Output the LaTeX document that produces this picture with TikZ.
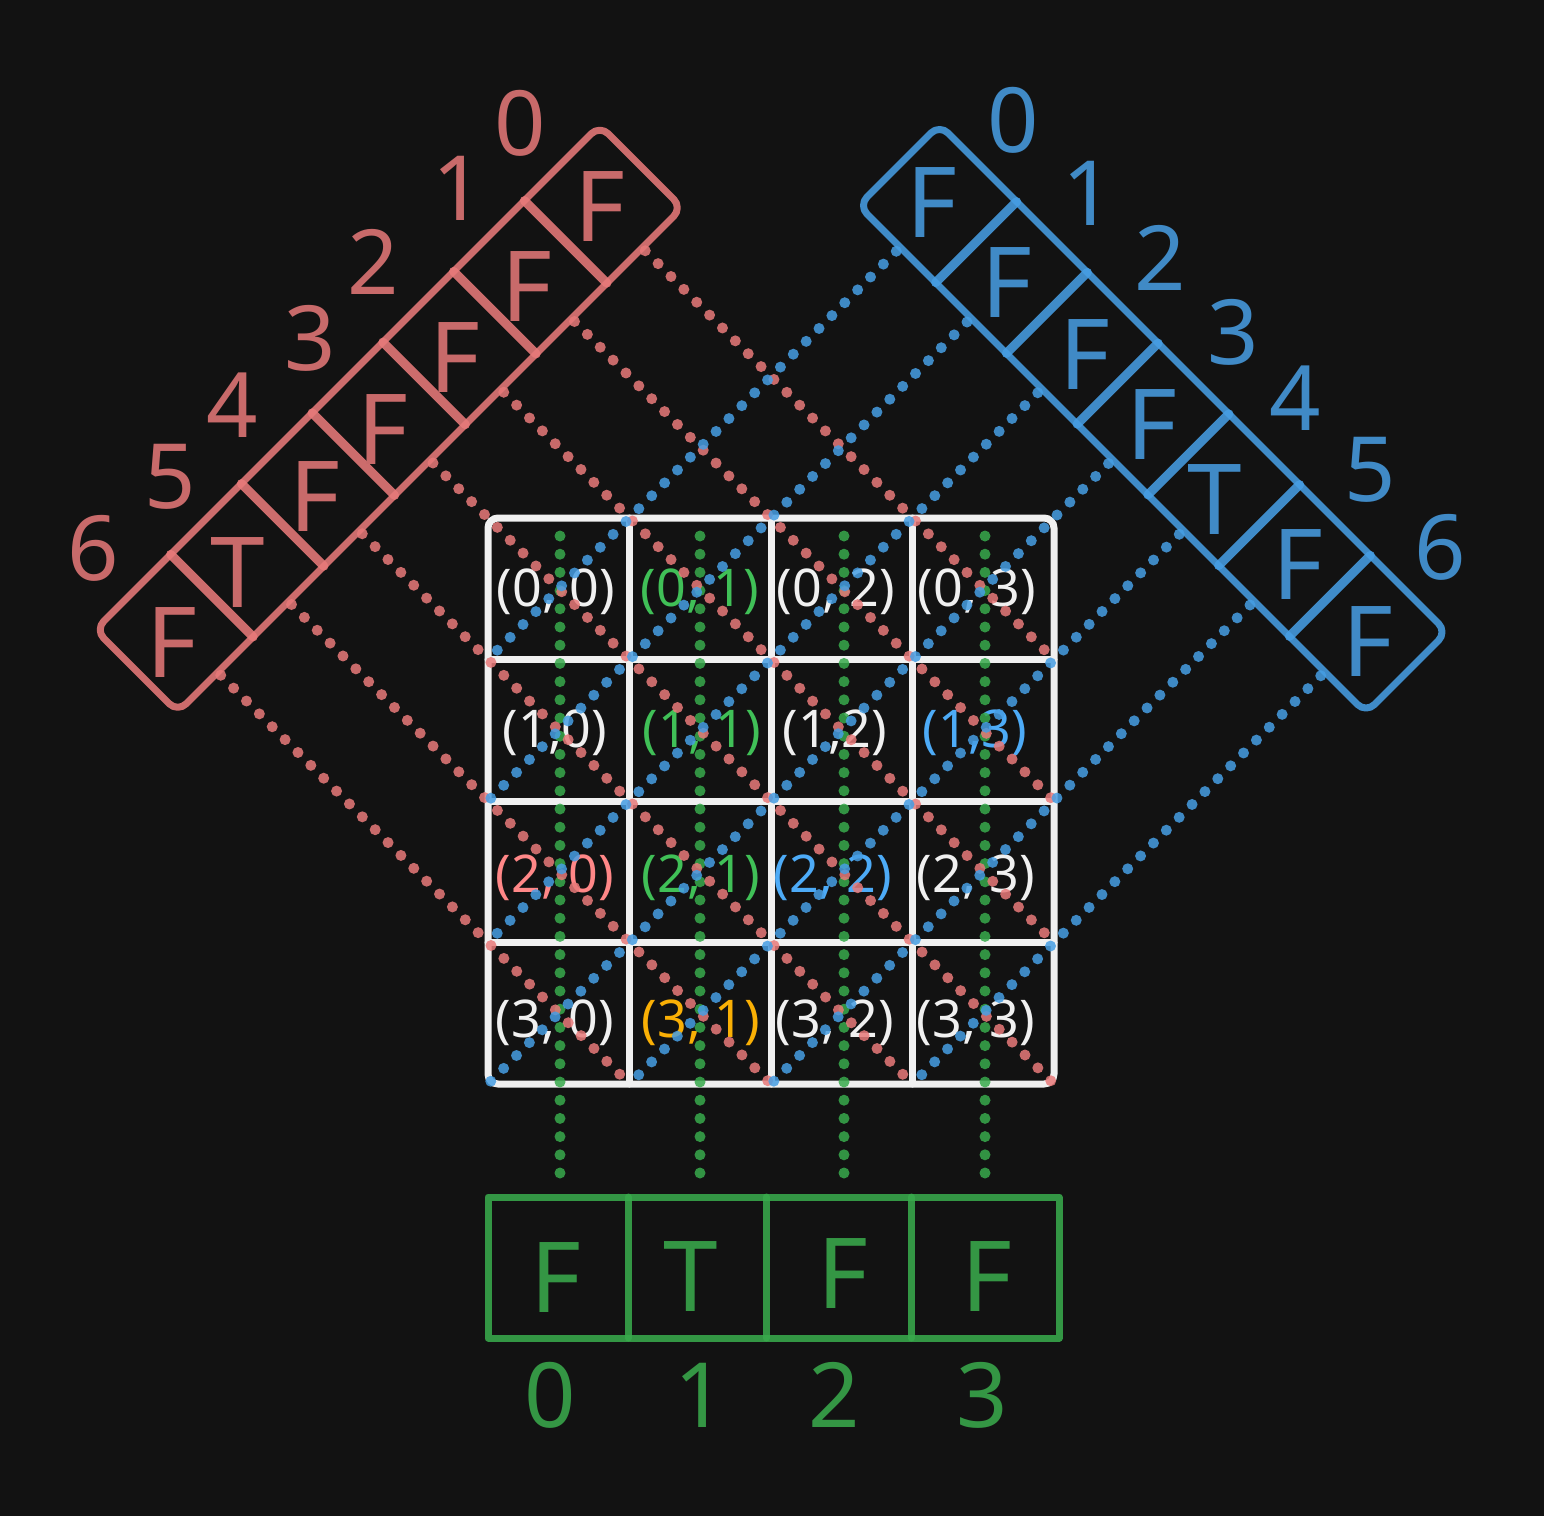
\documentclass[tikz,border=0pt]{standalone}
\usepackage{fontspec}
\setmainfont{Noto Sans}
\usetikzlibrary{calc,decorations.markings}
\definecolor{bgc}{RGB}{18,18,18}
\definecolor{redc}{RGB}{232,122,122}
\definecolor{redtxt}{RGB}{200,106,106}
\definecolor{bluec}{RGB}{70,158,228}
\definecolor{bluetxt}{RGB}{64,138,198}
\definecolor{greenc}{RGB}{56,170,76}
\definecolor{greentxt}{RGB}{52,150,68}
\definecolor{whitec}{RGB}{240,240,240}
\definecolor{hlgreen}{RGB}{64,192,87}
\definecolor{hlblue}{RGB}{77,171,247}
\definecolor{hlred}{RGB}{255,135,135}
\definecolor{hlorange}{RGB}{250,176,5}
\tikzset{
  boxline/.style={line width=7pt, opacity=0.87, line join=round, line cap=round},
  sepline/.style={line width=9pt, opacity=0.87, line cap=round},
  dotsof/.style={decoration={markings, mark=between positions 0 and 1 step 18.2pt with {\fill[#1, opacity=0.85] (0,0) circle[radius=5.5pt];}}, decorate},
  reddot/.style={dotsof=redc},
  bluedot/.style={dotsof=bluec},
  greendot/.style={dotsof=greenc},
  gridline/.style={draw=whitec, line width=7pt, line cap=round},
  bigletter/.style={inner sep=0pt, font=\fontsize{98}{100}\selectfont},
  bigdigit/.style={inner sep=0pt, font=\fontsize{90}{92}\selectfont},
  celltext/.style={inner sep=0pt, text=whitec, font=\fontsize{52}{56}\selectfont},
}
\begin{document}
\begin{tikzpicture}[x=1pt,y=-1pt]
\fill[bgc] (0,0) rectangle (1544,1516);
\useasboundingbox (0,0) rectangle (1544,1516);

% grid corner coordinates
\foreach \i in {0,...,4}{\foreach \j in {0,...,4}{
  \coordinate (p\i\j) at ({488+\j*141.5},{518+\i*141.5});
}}

% red diagonal array (u = y - x, v = x + y)
\begin{scope}[x={(-0.5pt,-0.5pt)},y={(0.5pt,-0.5pt)}]
  \draw[boxline, draw=redc, rounded corners=12pt] (-474.5,725) -- (-474.5,890) -- (534.5,890) -- (534.5,725) -- cycle;
  \foreach \j in {0,...,5}{
    \draw[sepline, draw=redc] ({30+(\j-2.5)*141.5},725) -- ({30+(\j-2.5)*141.5},890);
  }
  \foreach \k in {0,...,6}{
    \coordinate (rs\k) at ({30+(\k-3)*141.5},896);
  }
\end{scope}

% blue diagonal array (u = x + y, v = y - x)
\begin{scope}[x={(0.5pt,-0.5pt)},y={(-0.5pt,-0.5pt)}]
  \draw[boxline, draw=bluec, rounded corners=12pt] (1064,-815) -- (2079,-815) -- (2079,-653) -- (1064,-653) -- cycle;
  \foreach \j in {0,...,5}{
    \draw[sepline, draw=bluec] ({1006+(\j+1.5)*141.5},-815) -- ({1006+(\j+1.5)*141.5},-653);
  }
  \foreach \k in {0,...,6}{
    \coordinate (bs\k) at ({1006+(\k+1)*141.5},-645);
  }
\end{scope}

% red letters and indices
\foreach \k/\x/\y/\t in {0/600/207/F,1/527/287/F,2/455/358/F,3/383/430/F,4/315/497/F,5/238/573/T,6/172/643/F}{
  \node[bigletter, text=redtxt] (r\k) at (\x,\y) {\t};
}
\foreach \k/\x/\y in {0/520/123,1/458/188,2/373/262,3/310/338,4/232/405,5/170/477,6/93/548}{
  \node[bigdigit, text=redtxt] (ri\k) at (\x,\y) {\k};
}
% blue letters and indices
\foreach \k/\x/\y/\t in {0/932/203/F,1/1007/283/F,2/1085/355/F,3/1152/425/F,4/1215/500/T,5/1298/565/F,6/1368/642/F}{
  \node[bigletter, text=bluetxt] (b\k) at (\x,\y) {\t};
}
\foreach \k/\x/\y in {0/1013/120,1/1088/193,2/1160/258,3/1233/332,4/1295/398,5/1370/470,6/1440/547}{
  \node[bigdigit, text=bluetxt] (bi\k) at (\x,\y) {\k};
}

% white grid
\draw[gridline, rounded corners=10pt] (p00) rectangle (p44);
\foreach \j in {1,2,3}{ \draw[gridline] (p0\j) -- (p4\j); }
\foreach \i in {1,2,3}{ \draw[gridline] (p\i0) -- (p\i4); }

% cell texts
\node[celltext] (c00) at (556,592) {(0, 0)};
\node[celltext, text=hlgreen] (c01) at (700,592) {(0, 1)};
\node[celltext] (c02) at (836,592) {(0, 2)};
\node[celltext] (c03) at (977,592) {(0, 3)};
\node[celltext] (c10) at (555,733) {(1,0)};
\node[celltext, text=hlgreen] (c11) at (702,733) {(1, 1)};
\node[celltext] (c12) at (835,733) {(1,2)};
\node[celltext, text=hlblue] (c13) at (975,733) {(1,3)};
\node[celltext, text=hlred] (c20) at (555,878) {(2, 0)};
\node[celltext, text=hlgreen] (c21) at (701,878) {(2, 1)};
\node[celltext, text=hlblue] (c22) at (833,878) {(2, 2)};
\node[celltext] (c23) at (976,878) {(2, 3)};
\node[celltext] (c30) at (555,1023) {(3, 0)};
\node[celltext, text=hlorange] (c31) at (701,1023) {(3, 1)};
\node[celltext] (c32) at (835,1023) {(3, 2)};
\node[celltext] (c33) at (976,1023) {(3, 3)};

% green array
\coordinate (ga) at (488,1197);
\coordinate (gb) at (1059,1338);
\draw[boxline, draw=greenc] (ga) rectangle (gb);
\foreach \x in {628,766,911}{
  \draw[boxline, draw=greenc] (\x,1197) -- (\x,1338);
}
\foreach \k/\x/\y/\t in {0/556/1277/F,1/691/1276/T,2/843/1273/F,3/987/1276/F}{
  \node[bigletter, text=greentxt] (g\k) at (\x,\y) {\t};
}
\foreach \k/\x in {0/550,1/700,2/834,3/982}{
  \node[bigdigit, text=greentxt] (gi\k) at (\x,1395) {\k};
}

% green dotted columns
\foreach \k/\x in {0/560,1/700,2/844,3/985}{
  \coordinate (gt\k) at (\x,536);
  \coordinate (ge\k) at (\x,1191);
  \path[greendot] (gt\k) -- (ge\k);
}

% red dotted diagonals
\path[reddot] (rs0) -- (p14);
\path[reddot] (rs1) -- (p24);
\path[reddot] (rs2) -- (p34);
\path[reddot] (rs3) -- (p44);
\path[reddot] (rs4) -- (p43);
\path[reddot] (rs5) -- (p42);
\path[reddot] (rs6) -- (p41);

% blue dotted anti-diagonals
\path[bluedot] (bs0) -- (p10);
\path[bluedot] (bs1) -- (p20);
\path[bluedot] (bs2) -- (p30);
\path[bluedot] (bs3) -- (p40);
\path[bluedot] (bs4) -- (p41);
\path[bluedot] (bs5) -- (p42);
\path[bluedot] (bs6) -- (p43);
\end{tikzpicture}
\end{document}
